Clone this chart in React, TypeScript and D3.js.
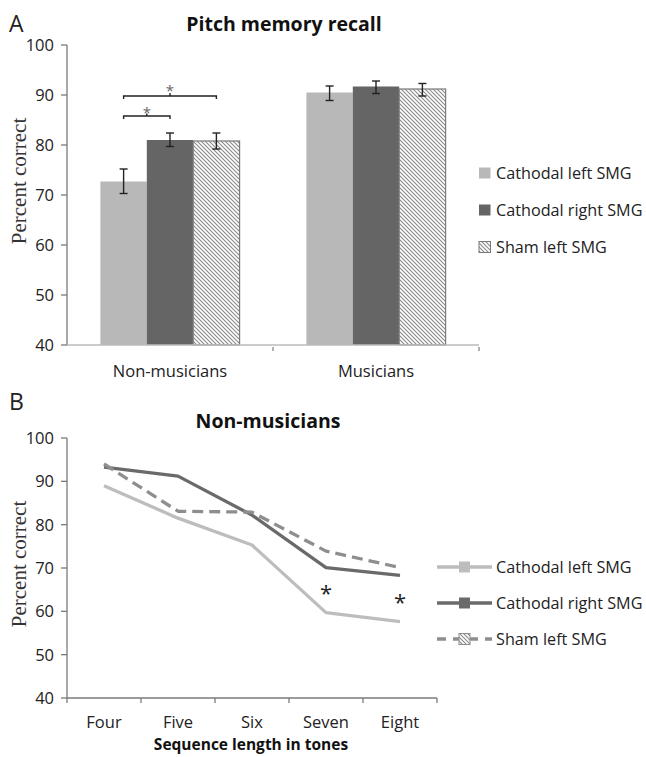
import React from "react";
import * as d3 from "d3";

const groups = ["Non-musicians", "Musicians"];
const conditions = ["Cathodal left SMG", "Cathodal right SMG", "Sham left SMG"];
const barMeans = [
  [72.7, 81.0, 80.8],
  [90.5, 91.7, 91.2],
];
const barLow = [
  [70.3, 79.7, 79.2],
  [88.9, 90.3, 89.8],
];
const barHigh = [
  [75.2, 82.4, 82.4],
  [91.8, 92.8, 92.3],
];
const yTicks = [40, 50, 60, 70, 80, 90, 100];

const lengths = ["Four", "Five", "Six", "Seven", "Eight"];
const lineLeft = [89.0, 81.5, 75.3, 59.7, 57.6];
const lineRight = [93.3, 91.2, 82.2, 70.1, 68.3];
const lineSham = [94.0, 83.1, 82.9, 73.9, 70.1];
const lineSeries = [lineLeft, lineRight, lineSham];
const starIdx = [3, 4];

const fillColors = ["#b8b8b8", "#656565", "url(#hatch)"];
const lineColors = ["#bdbdbd", "#6a6a6a", "#8e8e8e"];
const sans = "'Open Sans', 'Noto Sans', sans-serif";
const serif = "'Liberation Serif', 'DejaVu Serif', serif";
const axisCol = "#7a7a7a";

export default function App() {
  // Panel A scales
  const xA = d3.scaleBand().domain(groups).range([67, 479]).paddingInner(0).paddingOuter(0);
  const xInner = d3.scaleBand().domain(conditions).range([0, xA.bandwidth()]).paddingInner(0).paddingOuter(0.72);
  const yA = d3.scaleLinear().domain([40, 100]).range([345, 45]);

  // Panel B scales
  const xB = d3.scaleBand().domain(lengths).range([67, 437]);
  const yB = d3.scaleLinear().domain([40, 100]).range([698, 438]);
  const line = d3
    .line<number>()
    .x((_, i) => (xB(lengths[i]) as number) + xB.bandwidth() / 2)
    .y((d) => yB(d));

  const g0 = xA(groups[0]) as number;
  const bx = (gi: number, ci: number) =>
    (xA(groups[gi]) as number) + (xInner(conditions[ci]) as number);
  const bw = xInner.bandwidth();
  const c0 = bx(0, 0) + bw / 2;
  const c1 = bx(0, 1) + bw / 2;
  const c2 = bx(0, 2) + bw / 2;

  return (
    <svg width={646} height={757} style={{ display: "block", position: "absolute", left: 0, top: 0 }}>
      <defs>
        <pattern id="hatch" patternUnits="userSpaceOnUse" width={4} height={4}>
          <rect width={4} height={4} fill="#ffffff" />
          <path d="M-1,-1 L5,5 M-1,3 L1,5 M3,-1 L5,1" stroke="#8a8a8a" strokeWidth={1.1} />
        </pattern>
      </defs>
      <rect width={646} height={757} fill="#fff" />

      {/* ---------- Panel A ---------- */}
      <text x={9} y={32} fontFamily={sans} fontSize={23} fill="#222">A</text>
      <text x={284} y={31} textAnchor="middle" fontFamily={sans} fontWeight="bold" fontSize={19.5} fill="#111">
        Pitch memory recall
      </text>
      <text
        transform={`translate(26,${181}) rotate(-90)`}
        textAnchor="middle"
        fontFamily={serif}
        fontSize={21}
        fill="#333"
      >
        Percent correct
      </text>
      {/* bars */}
      {groups.map((g, gi) =>
        conditions.map((c, ci) => (
          <rect
            key={g + c}
            x={bx(gi, ci)}
            y={yA(barMeans[gi][ci])}
            width={bw}
            height={yA(40) - yA(barMeans[gi][ci])}
            fill={fillColors[ci]}
            stroke={ci === 2 ? "#7a7a7a" : "none"}
            strokeWidth={1.2}
          />
        ))
      )}
      {/* error bars */}
      {groups.map((g, gi) =>
        conditions.map((c, ci) => {
          const cx = bx(gi, ci) + bw / 2;
          return (
            <g key={"e" + g + c} stroke="#222" strokeWidth={1.4}>
              <line x1={cx} x2={cx} y1={yA(barLow[gi][ci])} y2={yA(barHigh[gi][ci])} />
              <line x1={cx - 4} x2={cx + 4} y1={yA(barLow[gi][ci])} y2={yA(barLow[gi][ci])} />
              <line x1={cx - 4} x2={cx + 4} y1={yA(barHigh[gi][ci])} y2={yA(barHigh[gi][ci])} />
            </g>
          );
        })
      )}
      {/* significance brackets */}
      <g stroke="#222" strokeWidth={1.4} fill="none">
        <path d={`M${c0},${yA(85.2)} V${yA(85.8)} H${c1} V${yA(85.2)}`} />
        <path d={`M${(c0 + c1) / 2},${yA(85.8)} V${yA(86.3)}`} />
        <path d={`M${c0},${yA(89.2)} V${yA(89.8)} H${c2} V${yA(89.2)}`} />
        <path d={`M${(c0 + c2) / 2},${yA(89.8)} V${yA(90.4)}`} />
      </g>
      <text x={(c0 + c1) / 2} y={yA(86.0) + 3} textAnchor="middle" fontFamily={sans} fontSize={15} fill="#666">*</text>
      <text x={(c0 + c2) / 2} y={yA(90.4) + 3} textAnchor="middle" fontFamily={sans} fontSize={15} fill="#666">*</text>
      {/* axes */}
      <g stroke={axisCol} strokeWidth={1.3}>
        <line x1={67} x2={67} y1={yA(100)} y2={yA(40)} />
        <line x1={67} x2={479} y1={yA(40)} y2={yA(40)} stroke="#bbb" />
        {yTicks.map((t) => (
          <line key={t} x1={61} x2={67} y1={yA(t)} y2={yA(t)} />
        ))}
        <line x1={g0 + xA.bandwidth()} x2={g0 + xA.bandwidth()} y1={yA(40) + 2} y2={yA(40) + 6} stroke="#888" />
        <line x1={479} x2={479} y1={yA(40) + 2} y2={yA(40) + 6} stroke="#888" />
      </g>
      {yTicks.map((t) => (
        <text key={t} x={54} y={yA(t) + 6} textAnchor="end" fontFamily={sans} fontSize={16.5} fill="#222">
          {t}
        </text>
      ))}
      {groups.map((g) => (
        <text
          key={g}
          x={(xA(g) as number) + xA.bandwidth() / 2}
          y={377}
          textAnchor="middle"
          fontFamily={sans}
          fontSize={16.5}
          fill="#222"
        >
          {g}
        </text>
      ))}
      {/* legend A */}
      {conditions.map((c, ci) => (
        <g key={"la" + c} transform={`translate(479,${173 + ci * 37})`}>
          <rect x={0} y={-5.5} width={11.5} height={11} fill={fillColors[ci]} stroke={ci === 2 ? "#7a7a7a" : "none"} />
          <text x={17} y={5.5} fontFamily={sans} fontSize={16.2} fill="#222">{c}</text>
        </g>
      ))}

      {/* ---------- Panel B ---------- */}
      <text x={9} y={410} fontFamily={sans} fontSize={23} fill="#222">B</text>
      <text x={268} y={428} textAnchor="middle" fontFamily={sans} fontWeight="bold" fontSize={19.5} fill="#111">
        Non-musicians
      </text>
      <text
        transform={`translate(26,${564}) rotate(-90)`}
        textAnchor="middle"
        fontFamily={serif}
        fontSize={21}
        fill="#333"
      >
        Percent correct
      </text>
      {lineSeries.map((s, si) => (
        <path
          key={"l" + si}
          d={line(s) as string}
          fill="none"
          stroke={lineColors[si]}
          strokeWidth={3.3}
          strokeDasharray={si === 2 ? "11,6" : undefined}
          strokeLinejoin="round"
        />
      ))}
      {starIdx.map((i) => (
        <text
          key={"s" + i}
          x={(xB(lengths[i]) as number) + xB.bandwidth() / 2}
          y={yB(lineLeft[i]) - 12}
          textAnchor="middle"
          fontFamily={sans}
          fontSize={22}
          fill="#222"
        >
          *
        </text>
      ))}
      <g stroke={axisCol} strokeWidth={1.3}>
        <line x1={67} x2={67} y1={yB(100)} y2={yB(40)} />
        <line x1={67} x2={437} y1={yB(40)} y2={yB(40)} />
        {yTicks.map((t) => (
          <line key={t} x1={61} x2={67} y1={yB(t)} y2={yB(t)} />
        ))}
        {lengths.map((l) => (
          <line
            key={l}
            x1={(xB(l) as number) + xB.bandwidth()}
            x2={(xB(l) as number) + xB.bandwidth()}
            y1={yB(40)}
            y2={yB(40) + 5}
          />
        ))}
        <line x1={67} x2={67} y1={yB(40)} y2={yB(40) + 5} />
      </g>
      {yTicks.map((t) => (
        <text key={t} x={54} y={yB(t) + 6} textAnchor="end" fontFamily={sans} fontSize={16.5} fill="#222">
          {t}
        </text>
      ))}
      {lengths.map((l) => (
        <text
          key={l}
          x={(xB(l) as number) + xB.bandwidth() / 2}
          y={728}
          textAnchor="middle"
          fontFamily={sans}
          fontSize={16.5}
          fill="#222"
        >
          {l}
        </text>
      ))}
      <text x={251} y={750} textAnchor="middle" fontFamily={sans} fontWeight="bold" fontSize={15.5} fill="#111">
        Sequence length in tones
      </text>
      {/* legend B */}
      {conditions.map((c, ci) => (
        <g key={"lb" + c} transform={`translate(437,${567 + ci * 36})`}>
          <line
            x1={0}
            x2={55}
            y1={0}
            y2={0}
            stroke={lineColors[ci]}
            strokeWidth={3.3}
            strokeDasharray={ci === 2 ? "9,7" : undefined}
          />
          <rect
            x={22}
            y={-5.5}
            width={11}
            height={11}
            fill={ci === 2 ? "url(#hatch)" : lineColors[ci]}
            stroke={ci === 2 ? "#8e8e8e" : "none"}
          />
          <text x={59} y={5.5} fontFamily={sans} fontSize={16.2} fill="#222">{c}</text>
        </g>
      ))}
    </svg>
  );
}
